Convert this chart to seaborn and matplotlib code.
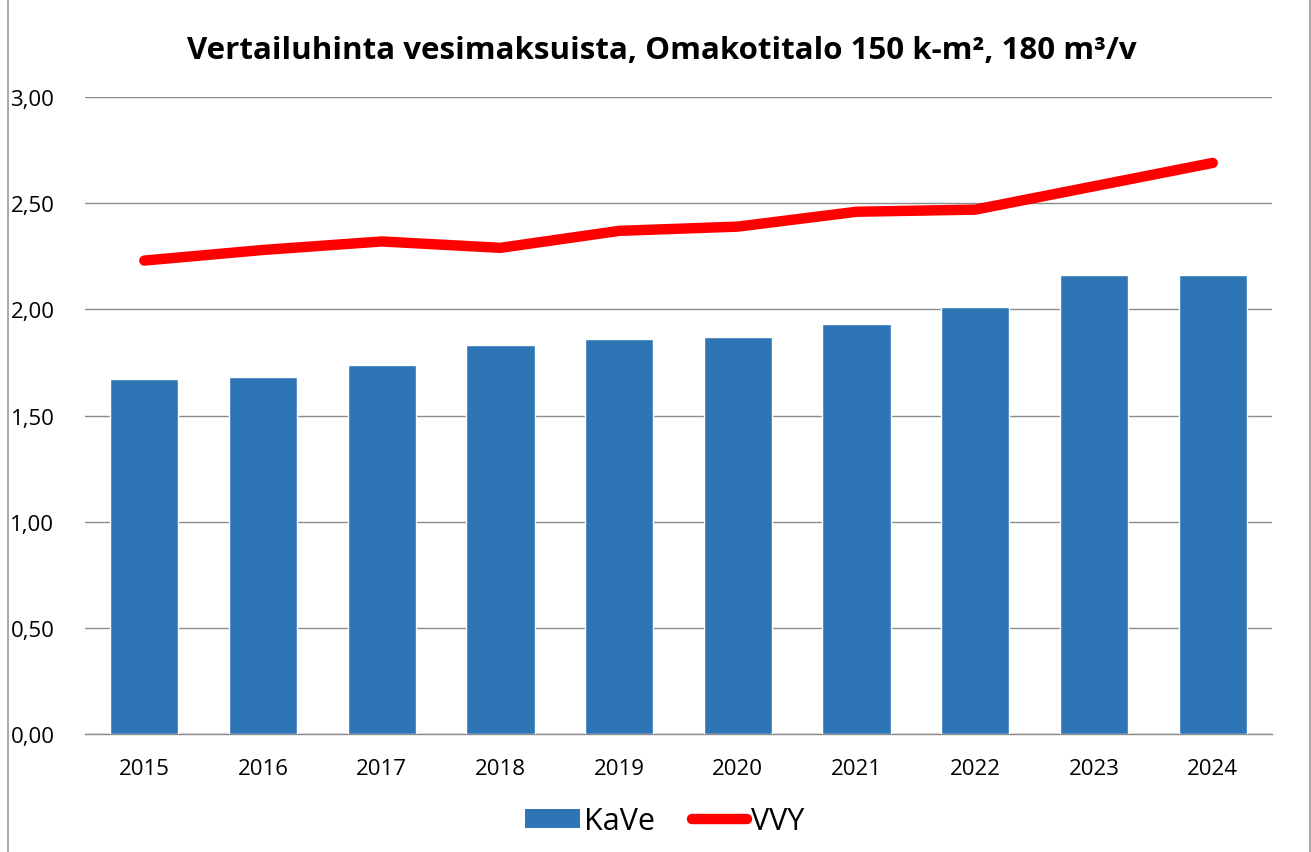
import matplotlib
matplotlib.use("Agg")
import matplotlib.pyplot as plt
import seaborn as sns
import numpy as np
import pandas as pd
from matplotlib.patches import Patch, Rectangle
from matplotlib.lines import Line2D
from matplotlib.ticker import FuncFormatter

years = ["2015", "2016", "2017", "2018", "2019", "2020", "2021", "2022", "2023", "2024"]
kave = [1.67, 1.68, 1.74, 1.83, 1.86, 1.87, 1.93, 2.01, 2.16, 2.16]
vvy = [2.23, 2.28, 2.32, 2.29, 2.37, 2.39, 2.46, 2.47, 2.58, 2.69]
yticks = [0.0, 0.5, 1.0, 1.5, 2.0, 2.5, 3.0]

sns.set_theme(style="white")
plt.rcParams['font.family'] = ['Open Sans', 'DejaVu Sans']
plt.rcParams['text.color'] = 'black'

fig = plt.figure(figsize=(13.11, 8.53), dpi=100)
ax = fig.add_axes([0.0648, 0.1383, 0.9055, 0.7467])

df = pd.DataFrame({"year": years, "KaVe": kave, "VVY": vvy})
sns.barplot(data=df, x="year", y="KaVe", color="#2E75B6", saturation=1,
            width=0.575, ax=ax, zorder=3)
sns.lineplot(x=np.arange(len(years)), y=vvy, color="#FF0000", linewidth=7.5,
             ax=ax, zorder=4, solid_capstyle="round", solid_joinstyle="miter")

ax.set_xlim(-0.5, len(years) - 0.5)
ax.set_ylim(0, 3.0)
ax.set_yticks(yticks)
ax.yaxis.set_major_formatter(FuncFormatter(lambda v, p: f"{v:.2f}".replace(".", ",")))
ax.grid(axis="y", color="#8C8C8C", linewidth=1.0, zorder=0)
ax.set_axisbelow(True)
for s in ["left", "right", "top"]:
    ax.spines[s].set_visible(False)
ax.spines["bottom"].set_color("#8C8C8C")
ax.spines["bottom"].set_linewidth(1.0)
ax.set_xlabel("")
ax.set_ylabel("")
ax.tick_params(axis="x", labelsize=16, colors="black", length=0, pad=17)
ax.tick_params(axis="y", labelsize=16, colors="black", length=0, pad=22)
for lab in ax.get_yticklabels() + ax.get_xticklabels():
    lab.set_color("black")

fig.suptitle("Vertailuhinta vesimaksuista, Omakotitalo 150 k-m², 180 m³/v",
             x=0.505, y=0.958, fontsize=22.5, fontweight="bold", va="top", color="black")

handles = [Patch(facecolor="#2E75B6", edgecolor="none"),
           Line2D([0], [0], color="#FF0000", linewidth=7.5, solid_capstyle="round")]
fig.legend(handles, ["KaVe", "VVY"], loc="lower center", bbox_to_anchor=(0.507, -0.014),
           ncol=2, frameon=False, fontsize=22, handlelength=1.8, handleheight=0.55,
           handletextpad=0.15, columnspacing=1.2)

fig.patches.append(Rectangle((0.006, -0.01), 0.993, 1.02, transform=fig.transFigure,
                             fill=False, edgecolor="#9A9A9A", linewidth=1.2))

fig.savefig("out.png", dpi=100)
